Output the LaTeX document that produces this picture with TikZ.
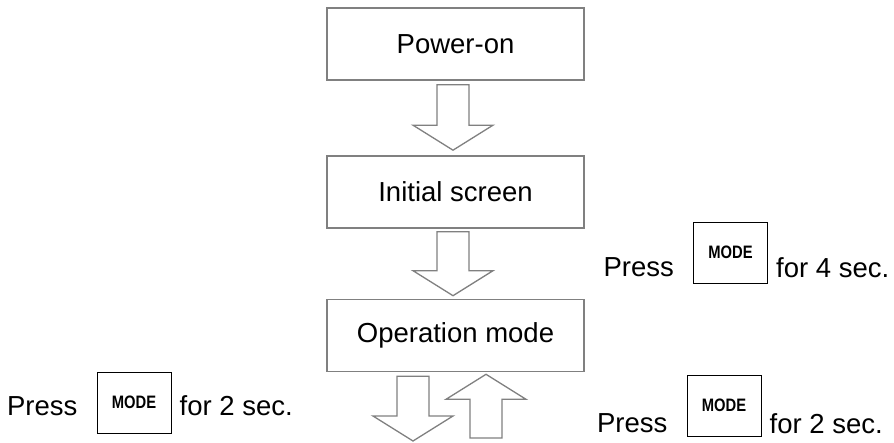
\documentclass[tikz,border=0pt]{standalone}
\usepackage{fontspec}
\setmainfont{Liberation Sans}
\usetikzlibrary{positioning}
\usetikzlibrary{calc}
\definecolor{boxgray}{RGB}{128,128,128}
\tikzset{
        % State boxes
        node_state/.style={rectangle, draw=boxgray, line width=1.6pt, fill=white, minimum width=257pt, minimum height=72pt, inner sep=0pt},
        % MODE key
        node_key/.style={rectangle, draw=black, line width=0.9pt, minimum width=74pt, minimum height=61pt, inner sep=0pt, font=\fontsize{18}{20}\selectfont\bfseries},
        % Texts beside the key
        node_label/.style={inner sep=0pt},
        % Hollow block arrows
        arrow_block/.style={draw=boxgray, line width=1.3pt, fill=white, line join=miter}
}
% #1 start of shaft, #2 tip, #3 = 1 for down, -1 for up
\newcommand{\blockarrow}[3]{%
    \path[arrow_block] let \p1=#1, \p2=#2 in
        ({\x1-16pt},\y1) -- ({\x1+16pt},\y1) -- ({\x1+16pt},{\y2+(#3)*25pt})
        -- ({\x1+40pt},{\y2+(#3)*25pt}) -- (\x2,\y2) -- ({\x1-40pt},{\y2+(#3)*25pt})
        -- ({\x1-16pt},{\y2+(#3)*25pt}) -- cycle;}
\newcommand{\keytext}{\scalebox{0.82}[1]{MODE}}
\begin{document}
\begin{tikzpicture}[x=1pt, y=1pt, font=\fontsize{27.5}{33}\selectfont]
            \useasboundingbox (0,0) rectangle (894,-443);
            \node[node_state] (power) at (455.5,-44) {Power-on};
            \node[node_state] (initial) at (455.5,-192) {Initial screen};
            \node[node_state] (opmode) at (455.5,-335.5) {Operation mode};

            \blockarrow{($(power.south)+(-2.5pt,-4pt)$)}{($(initial.north)+(-2.5pt,5pt)$)}{1}
            \blockarrow{($(initial.south)+(-2.5pt,-3pt)$)}{($(opmode.north)+(-2.5pt,3pt)$)}{1}

            \coordinate (down_end) at (413,-441);
            \coordinate (up_start) at (486,-438);
            \blockarrow{($(opmode.south)+(-42.5pt,-4pt)$)}{(down_end)}{1}
            \blockarrow{(up_start)}{($(opmode.south)+(30.5pt,-2pt)$)}{-1}

            % left: back to operation mode
            \node[node_key] (key_left) at (134,-402.5) {\keytext};
            \node[node_label, left=19pt of key_left, yshift=-3.5pt] (press_left) {Press};
            \node[node_label, right=8pt of key_left, yshift=-3.5pt] (sec_left) {for 2 sec.};

            % right top
            \node[node_key] (key_top) at (730.5,-252.5) {\keytext};
            \node[node_label, left=19pt of key_top, yshift=-15pt] (press_top) {Press};
            \node[node_label, right=8pt of key_top, yshift=-15pt] (sec_top) {for 4 sec.};

            % right bottom
            \node[node_key] (key_bottom) at (724,-405.5) {\keytext};
            \node[node_label, left=19pt of key_bottom, yshift=-18pt] (press_bottom) {Press};
            \node[node_label, right=8pt of key_bottom, yshift=-18pt] (sec_bottom) {for 2 sec.};
\end{tikzpicture}
\end{document}
